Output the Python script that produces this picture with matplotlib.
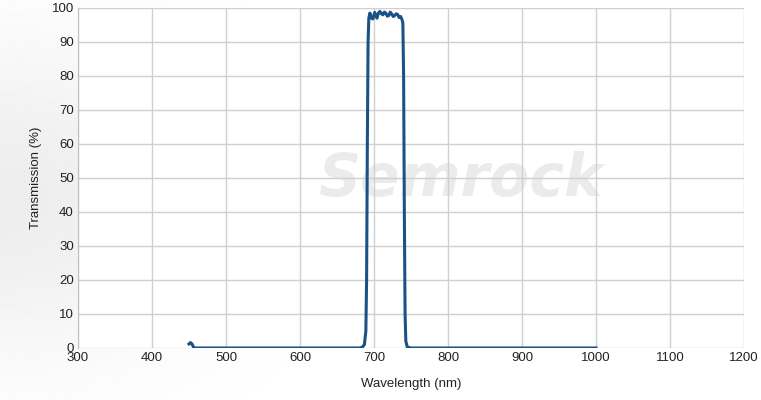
import numpy as np
import matplotlib
matplotlib.use("Agg")
import matplotlib.pyplot as plt

plt.rcParams['font.family'] = ['Liberation Sans', 'DejaVu Sans']

wavelength = [450, 452, 454, 456, 458, 460, 680, 684, 687, 689, 690, 691, 692, 693,
              694.5, 696.5, 698.5, 701, 704, 706, 708, 710, 712, 714, 716, 718, 720,
              722, 724, 726, 728, 730, 732, 734, 736, 738, 739, 740, 741, 742, 743,
              745, 750, 1000]
transmission = [1.2, 1.6, 1.2, 0.3, 0, 0, 0, 0.2, 1, 5, 20, 60, 90, 97,
                98.5, 97, 96.8, 98.7, 97, 98.5, 99, 98.3, 98, 98.8, 98.5, 97.6, 97.8,
                98.8, 98.2, 97.5, 97.8, 98.3, 98.1, 97.2, 97.5, 96.5, 95.5, 80, 40, 10, 2,
                0.3, 0, 0]
x_ticks = [300, 400, 500, 600, 700, 800, 900, 1000, 1100, 1200]
y_ticks = [0, 10, 20, 30, 40, 50, 60, 70, 80, 90, 100]

fig = plt.figure(figsize=(7.61, 4.00), dpi=100)

# subtle background gradient
bg = fig.add_axes([0, 0, 1, 1], zorder=-10)
yy, xx = np.mgrid[0:1:200j, 0:1:380j]
g = 1 - 0.07 * np.exp(-((xx - 0.0) ** 2) / 0.08 - ((yy - 0.5) ** 2) / 0.15)
bg.imshow(g, cmap='gray', vmin=0, vmax=1, aspect='auto', extent=[0, 1, 0, 1])
bg.axis('off')

ax = fig.add_axes([78 / 761, 1 - 348 / 400, (744 - 78) / 761, (348 - 8) / 400])
ax.set_facecolor('white')
ax.set_xlim(300, 1200)
ax.set_ylim(0, 100)
ax.set_xticks(x_ticks)
ax.set_yticks(y_ticks)
ax.grid(True, color='#d0d0d0', linewidth=1, zorder=1)
ax.set_axisbelow(True)
ax.tick_params(length=0, labelsize=9.5, colors='#222222', pad=3)
for s in ['top', 'right', 'bottom']:
    ax.spines[s].set_visible(False)
ax.spines['left'].set_color('#c0c0c0')

ax.text(0.575, 0.495, 'Semrock', transform=ax.transAxes, fontsize=42,
        fontweight='bold', fontstyle='italic', color='#ebebeb',
        ha='center', va='center', zorder=0.5, family=['DejaVu Sans'])

ax.plot(wavelength, transmission, color='#1a5285', linewidth=2.2, zorder=3,
        solid_joinstyle='round')

ax.set_xlabel('Wavelength (nm)', fontsize=9.5, color='#222222', labelpad=10)
ax.set_ylabel('Transmission (%)', fontsize=9.5, color='#222222', labelpad=7)

fig.savefig('out.png', dpi=100)
